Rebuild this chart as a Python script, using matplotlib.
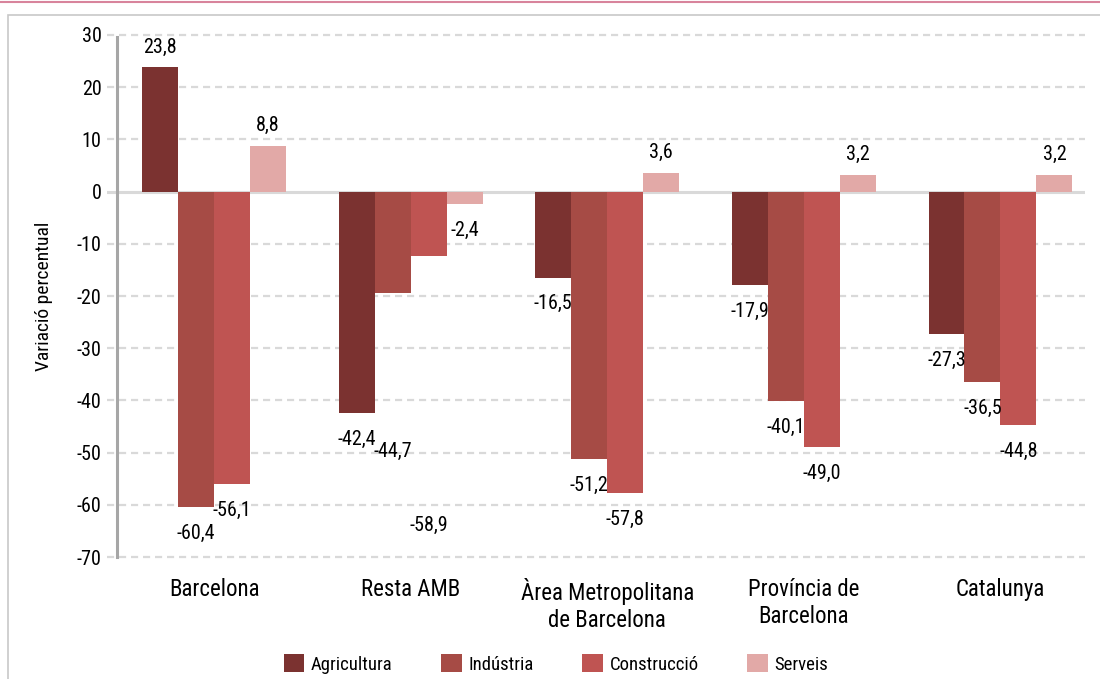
import matplotlib
matplotlib.use('Agg')
import numpy as np
from matplotlib import pyplot as plt
from matplotlib.patches import Rectangle
from matplotlib.lines import Line2D

plt.rcParams['font.family'] = ['Roboto Condensed', 'Liberation Sans', 'DejaVu Sans']
plt.rcParams['axes.unicode_minus'] = False

categories = ['Barcelona', 'Resta AMB', 'Àrea Metropolitana\nde Barcelona',
              'Província de\nBarcelona', 'Catalunya']
series = ['Agricultura', 'Indústria', 'Construcció', 'Serveis']
colors = ['#7b3230', '#a64b45', '#bf5452', '#e2a9a7']

# bar heights as drawn in the source chart
agricultura = [23.8, -42.4, -16.5, -17.9, -27.3]
industria = [-60.4, -19.4, -51.2, -40.1, -36.5]
construccio = [-56.1, -12.3, -57.8, -49.0, -44.8]
serveis = [8.8, -2.4, 3.6, 3.2, 3.2]

# value labels printed in the source chart
label_agricultura = [23.8, -42.4, -16.5, -17.9, -27.3]
label_industria = [-60.4, -44.7, -51.2, -40.1, -36.5]
label_construccio = [-56.1, -58.9, -57.8, -49.0, -44.8]
label_serveis = [8.8, -2.4, 3.6, 3.2, 3.2]

yticks = list(range(-70, 31, 10))

bars = [agricultura, industria, construccio, serveis]
labels = [label_agricultura, label_industria, label_construccio, label_serveis]

fig = plt.figure(figsize=(11, 6.79), dpi=100)
W, H = 1100, 679
ax = fig.add_axes([107 / W, 1 - 558.6 / H, (1085 - 107) / W, (558.6 - 33.4) / H])

# outer frame and top rule
fig.patches.append(Rectangle((8 / W, -0.1), 1.2, (1 - 15 / H) + 0.1,
                             transform=fig.transFigure, fill=False,
                             edgecolor='#c8c8c8', lw=1.2))
fig.lines.append(Line2D([0, 1], [1 - 2 / H, 1 - 2 / H], transform=fig.transFigure,
                        color='#d8849c', lw=1.5))

x = np.arange(len(categories))
w = 0.183
for i, (vals, labs) in enumerate(zip(bars, labels)):
    pos = x + (i - 1.5) * w
    ax.bar(pos, vals, width=w, color=colors[i], label=series[i], zorder=3)
    for px, v, lab in zip(pos, vals, labs):
        ty = lab + 3.9 if lab >= 0 else lab - 5.0
        ax.text(px, ty, f'{lab:.1f}'.replace('.', ','), ha='center', va='center',
                fontsize=14.5, zorder=4)

ax.set_xlim(-0.545, 4.43)
ax.set_ylim(-70.3, 30.3)
ax.set_yticks(yticks)
ax.set_xticks(x)
ax.set_xticklabels(categories, fontsize=16.5, linespacing=1.2)
ax.tick_params(axis='both', length=0)
ax.tick_params(axis='y', labelsize=14.5, pad=11)
ax.tick_params(axis='x', pad=14)

for s in ['top', 'right', 'bottom']:
    ax.spines[s].set_visible(False)
ax.spines['left'].set_position(('axes', 10 / 978))
ax.spines['left'].set_color('#a6a6a6')
ax.spines['left'].set_linewidth(2.2)
ax.spines['left'].set_bounds(-70, 29.6)

for t in yticks:
    if t == 0:
        ax.axhline(0, color='#d9d9d9', lw=2.2, zorder=2)
    else:
        ax.axhline(t, color='#d9d9d9', lw=1.6, ls=(0, (3.2, 2.2)), zorder=1)

ax.set_ylabel('Variació percentual', fontsize=14)
ax.yaxis.set_label_coords(-54 / 978, 0.5)

fig.legend(loc='center', bbox_to_anchor=(556 / W, 1 - 664 / H), ncol=4,
           frameon=False, fontsize=13.5, handlelength=1.1, handleheight=1.1,
           handletextpad=0.35, columnspacing=2.6)

fig.savefig('out.png', dpi=100)
